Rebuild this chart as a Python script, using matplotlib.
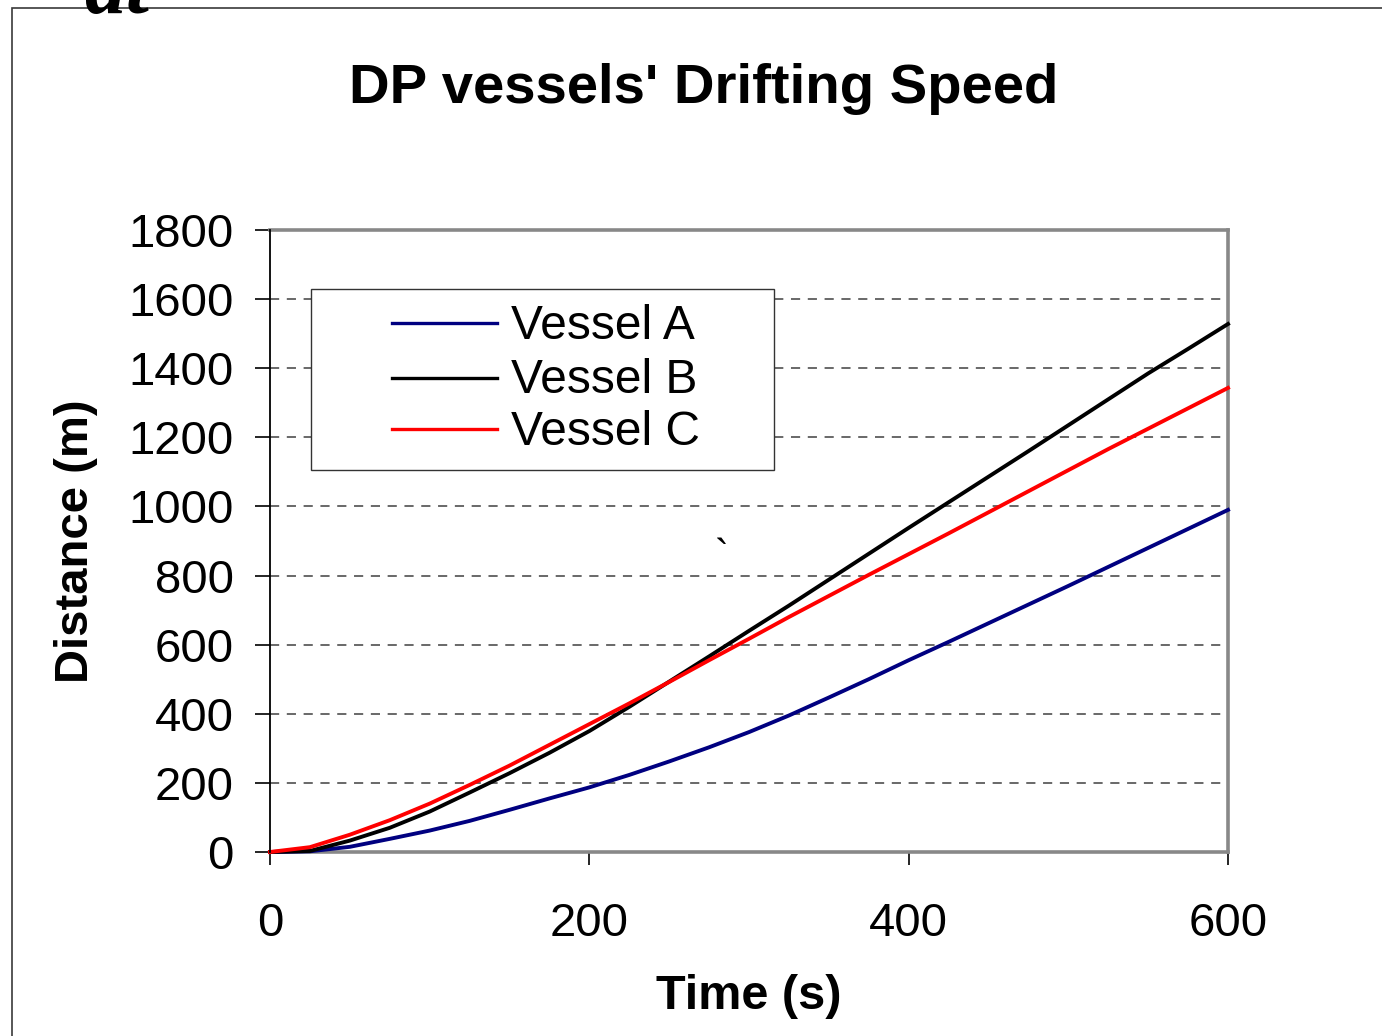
import numpy as np
import matplotlib.pyplot as plt
from matplotlib.patches import Rectangle

# ------------------------------------------------------------
# DP vessels' drifting speed: distance vs time, three vessels
# ------------------------------------------------------------

plt.rcParams["font.family"] = ["Liberation Sans", "DejaVu Sans"]

time_s = [0, 25, 50, 75, 100, 125, 150, 175, 200, 225, 250, 275, 300,
          325, 350, 375, 400, 425, 450, 475, 500, 525, 550, 575, 600]

vessel_a = [0, 2, 15, 38, 62, 90, 122, 155, 187, 223, 262, 303, 347,
            395, 447, 500, 555, 608, 662, 716, 770, 825, 880, 935, 990]
vessel_b = [0, 3, 33, 70, 117, 172, 228, 287, 350, 420, 493, 566, 640,
            713, 788, 863, 938, 1012, 1086, 1160, 1235, 1310, 1385, 1456, 1528]
vessel_c = [0, 14, 50, 92, 140, 194, 250, 310, 370, 430, 492, 555, 617,
            680, 741, 802, 862, 922, 983, 1044, 1105, 1166, 1225, 1284, 1343]

series_names = ["Vessel A", "Vessel B", "Vessel C"]
series_colors = ["#000080", "#000000", "#ff0000"]

x_ticks = [0, 200, 400, 600]
y_ticks = [0, 200, 400, 600, 800, 1000, 1200, 1400, 1600, 1800]

W, H = 1382, 1036
fig = plt.figure(figsize=(W / 100, H / 100), dpi=100)
ax = fig.add_axes([270 / W, 1 - 852 / H, 958 / W, 622 / H])

# outer chart border (cut off at right and bottom in the source)
fig.patches.append(Rectangle((12 / W, -0.2), 1.2, 1.2 - 8 / H,
                             transform=fig.transFigure, fill=False,
                             edgecolor="#3a3a3a", linewidth=1.2))
# fragment of an equation above the chart
fig.text(84 / W, 1 - 13 / H, "dt", family="Liberation Serif", style="italic",
         weight="bold", fontsize=60, ha="left", va="baseline", zorder=5)

for vals, name, col in zip([vessel_a, vessel_b, vessel_c], series_names, series_colors):
    ax.plot(time_s, vals, color=col, linewidth=2.8, label=name, clip_on=False, zorder=3)

ax.set_xlim(0, 600)
ax.set_ylim(0, 1800)
ax.set_xticks(x_ticks)
ax.set_yticks(y_ticks)
ax.tick_params(axis="both", direction="out", labelsize=34, colors="black")
ax.tick_params(axis="y", length=11, width=1.2, pad=15)
ax.tick_params(axis="x", length=9, width=1.2, pad=27)

for yv in y_ticks[1:-1]:
    ax.axhline(yv, color="#404040", linewidth=1.1, linestyle=(0, (6, 5)), zorder=1)

for side in ["top", "right", "bottom"]:
    ax.spines[side].set_color("#888888")
    ax.spines[side].set_linewidth(2.6)
ax.spines["left"].set_color("black")
ax.spines["left"].set_linewidth(1.3)
ax.spines["left"].set_zorder(4)

ax.set_xlabel("Time (s)", fontsize=35, fontweight="bold", labelpad=20)
ax.set_ylabel("Distance (m)", fontsize=34, fontweight="bold", labelpad=22)

fig.text(704 / W, 1 - 103 / H, "DP vessels' Drifting Speed", fontsize=40.5,
         fontweight="bold", ha="center", va="baseline")

# stray mark in the plot area
ax.text(283, 850, "`", fontsize=30, ha="center", va="center")

# legend box, drawn by hand to match the Excel layout
lx0, lx1 = (311 - 270) / 958, (774 - 270) / 958
ly0, ly1 = (852 - 470) / 622, (852 - 289) / 622
ax.add_patch(Rectangle((lx0, ly0), lx1 - lx0, ly1 - ly0, transform=ax.transAxes,
                       facecolor="white", edgecolor="#333333", linewidth=1.0, zorder=6))
row_line = [322.7, 377.7, 429]
row_base = [339, 393, 445]
for name, col, yl, yb in zip(series_names, series_colors, row_line, row_base):
    ax.plot([(392 - 270) / 958, (497 - 270) / 958], [(852 - yl) / 622] * 2,
            transform=ax.transAxes, color=col, linewidth=2.4, zorder=7, clip_on=False)
    ax.text((511 - 270) / 958, (852 - yb) / 622, name, transform=ax.transAxes,
            fontsize=34.5, ha="left", va="baseline", zorder=7)

fig.savefig("out.png", dpi=100)
